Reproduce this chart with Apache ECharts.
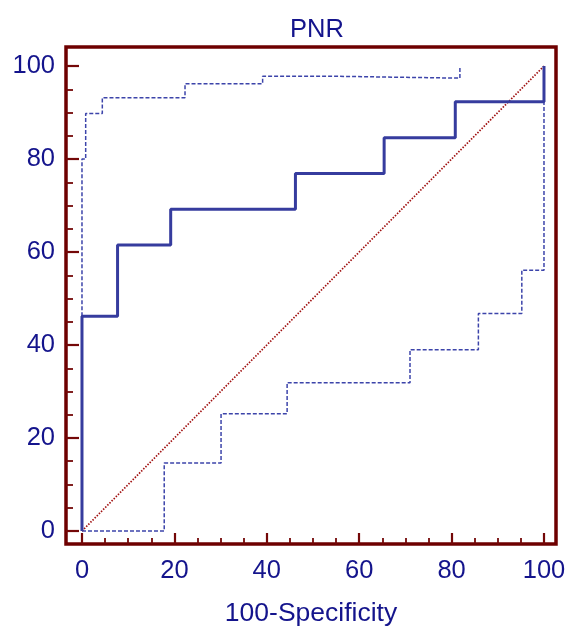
<!DOCTYPE html>
<html>
<head>
<meta charset="utf-8">
<script src="https://cdn.jsdelivr.net/npm/echarts@6/dist/echarts.min.js"></script>
<style>
html,body{margin:0;padding:0;background:#fff;}
#chart{width:575px;height:626px;}
</style>
</head>
<body>
<div id="chart"></div>
<script>
// ROC curve (100-Specificity, Sensitivity)
var rocX = [0, 0, 7.7, 7.7, 19.2, 19.2, 46.2, 46.2, 65.4, 65.4, 80.8, 80.8, 100, 100];
var rocY = [0, 46.2, 46.2, 61.5, 61.5, 69.2, 69.2, 76.9, 76.9, 84.6, 84.6, 92.3, 92.3, 100];
// Upper confidence bound
var upperX = [0, 0, 0.8, 0.8, 4.4, 4.4, 22.3, 22.3, 39.1, 39.1, 55.1, 55.1, 81.8, 81.8];
var upperY = [46.2, 80, 80, 89.8, 89.8, 93.2, 93.2, 96.2, 96.2, 97.8, 97.8, 97.4, 97.4, 100];
// Lower confidence bound
var lowerX = [0, 17.8, 17.8, 30.1, 30.1, 44.4, 44.4, 71.0, 71.0, 85.8, 85.8, 95.2, 95.2, 100, 100];
var lowerY = [0, 0, 14.6, 14.6, 25.2, 25.2, 31.9, 31.9, 39.0, 39.0, 46.8, 46.8, 56.1, 56.1, 100];
// Reference diagonal
var diagX = [0, 100];
var diagY = [0, 100];
// Tick labels
var majorTicks = [0, 20, 40, 60, 80, 100];
var minorTicks = [5, 10, 15, 25, 30, 35, 45, 50, 55, 65, 70, 75, 85, 90, 95];
var titleText = 'PNR';
var xName = '100-Specificity';

function pairs(xs, ys) { return xs.map(function (x, i) { return [x, ys[i]]; }); }

var frameColor = '#6e0000';
var tickColor = '#740808';
var textColor = '#14148c';
var font = 'Liberation Sans, Arial, sans-serif';
var xMin = -3.46, xMax = 102.6, yMin = -2.8, yMax = 104.1;

var chart = echarts.init(document.getElementById('chart'), null, {renderer: 'canvas'});
chart.setOption({
  animation: false,
  backgroundColor: '#ffffff',
  title: {
    text: titleText, left: 312, top: 12, textAlign: 'center',
    textStyle: {color: textColor, fontSize: 25.5, fontWeight: 'normal', fontFamily: font}
  },
  grid: {left: 66, right: 19, top: 47, bottom: 82, show: true, borderColor: frameColor, borderWidth: 3.5,
    backgroundColor: 'transparent', containLabel: false, outerBoundsMode: 'none'},
  xAxis: [{
    type: 'value', min: xMin, max: xMax, position: 'bottom',
    name: xName, nameLocation: 'middle', nameGap: 56,
    nameTextStyle: {color: textColor, fontSize: 26.5, fontFamily: font},
    axisLine: {show: false, onZero: false}, splitLine: {show: false},
    axisTick: {show: true, inside: true, length: 11, customValues: majorTicks, lineStyle: {color: tickColor, width: 2.2}},
    axisLabel: {customValues: majorTicks, color: textColor, fontSize: 25.5, fontFamily: font, margin: 14}
  }, {
    type: 'value', min: xMin, max: xMax, position: 'bottom', offset: 0,
    axisLine: {show: false, onZero: false}, splitLine: {show: false},
    axisTick: {show: true, inside: true, length: 6, customValues: minorTicks, lineStyle: {color: tickColor, width: 1.8}},
    axisLabel: {show: false}
  }],
  yAxis: [{
    type: 'value', min: yMin, max: yMax, position: 'left',
    axisLine: {show: false, onZero: false}, splitLine: {show: false},
    axisTick: {show: true, inside: true, length: 13, customValues: majorTicks, lineStyle: {color: tickColor, width: 2.2}},
    axisLabel: {customValues: majorTicks, color: textColor, fontSize: 25.5, fontFamily: font, margin: 11}
  }, {
    type: 'value', min: yMin, max: yMax, position: 'left', offset: 0,
    axisLine: {show: false, onZero: false}, splitLine: {show: false},
    axisTick: {show: true, inside: true, length: 7, customValues: minorTicks, lineStyle: {color: tickColor, width: 1.8}},
    axisLabel: {show: false}
  }],
  series: [
    {type: 'line', name: 'lower', data: pairs(lowerX, lowerY), symbol: 'none', xAxisIndex: 0, yAxisIndex: 0,
      lineStyle: {color: '#3c44aa', width: 1.5, type: [4, 2]}, z: 2},
    {type: 'line', name: 'upper', data: pairs(upperX, upperY), symbol: 'none', xAxisIndex: 0, yAxisIndex: 0,
      lineStyle: {color: '#3c44aa', width: 1.5, type: [4, 2]}, z: 2},
    {type: 'line', name: 'diag', data: pairs(diagX, diagY), symbol: 'none', xAxisIndex: 0, yAxisIndex: 0,
      lineStyle: {color: '#a01010', width: 1.7, type: [1.5, 1.5]}, z: 3},
    {type: 'line', name: 'roc', data: pairs(rocX, rocY), symbol: 'none', xAxisIndex: 0, yAxisIndex: 0,
      lineStyle: {color: '#363c9e', width: 3}, z: 4}
  ]
});
</script>
</body>
</html>
